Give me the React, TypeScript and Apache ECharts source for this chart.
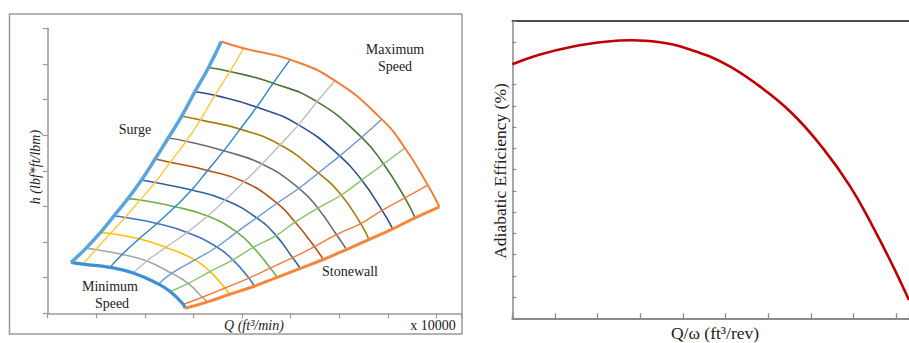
import React, { useEffect, useRef } from 'react';
import * as echarts from 'echarts';

// ---- Left panel: compressor map (Q in ft^3/min x 10000, h in lbf*ft/lbm) ----
// Each array: 12 points, one per speed line (minimum speed -> maximum speed)
const surgePts = [[0.48,1.43],[0.79,1.83],[1.08,2.26],[1.36,2.73],[1.65,3.22],[1.93,3.74],[2.21,4.33],[2.48,4.92],[2.76,5.54],[3.03,6.22],[3.31,6.90],[3.57,7.63]];
const flow1Pts = [[0.73,1.38],[0.99,1.79],[1.29,2.24],[1.59,2.69],[1.90,3.18],[2.21,3.67],[2.52,4.24],[2.85,4.83],[3.14,5.43],[3.44,6.12],[3.75,6.79],[4.03,7.44]];
const flow2Pts = [[1.28,1.29],[1.53,1.65],[1.88,2.09],[2.25,2.52],[2.62,2.99],[2.96,3.46],[3.29,4.01],[3.62,4.56],[3.96,5.17],[4.30,5.79],[4.64,6.46],[4.99,7.12]];
const flow3Pts = [[1.76,1.13],[2.04,1.47],[2.43,1.85],[2.87,2.27],[3.29,2.73],[3.65,3.18],[4.04,3.69],[4.41,4.19],[4.78,4.73],[5.16,5.29],[5.54,5.94],[5.91,6.53]];
const flow4Pts = [[2.28,0.82],[2.55,1.12],[3.03,1.50],[3.48,1.86],[3.89,2.28],[4.30,2.68],[4.72,3.09],[5.17,3.51],[5.57,3.94],[6.01,4.42],[6.46,4.94],[6.87,5.45]];
const flow5Pts = [[2.52,0.61],[2.89,0.84],[3.34,1.17],[3.81,1.50],[4.23,1.85],[4.70,2.18],[5.09,2.56],[5.56,2.95],[6.04,3.32],[6.46,3.74],[6.91,4.19],[7.35,4.64]];
const flow6Pts = [[2.79,0.25],[3.18,0.45],[3.65,0.71],[4.14,0.99],[4.58,1.27],[5.04,1.56],[5.49,1.87],[5.94,2.21],[6.44,2.52],[6.88,2.89],[7.35,3.24],[7.82,3.60]];
const stonewallPts = [[2.83,0.14],[3.29,0.32],[3.74,0.53],[4.25,0.76],[4.72,1.01],[5.20,1.26],[5.67,1.51],[6.15,1.79],[6.61,2.07],[7.10,2.37],[7.56,2.68],[8.06,2.99]];

const speedColors = ['#3f8fd5','#a5a5a5','#ffc000','#4472c4','#70ad47','#2f62a0','#b4521c','#6e6e6e','#a87d0c','#2d4f8c','#4c7434','#f07f3a'];
const flowColors = ['#ffc83a','#2b84cc','#bdbdbd','#6f95d6','#86c36a','#f07b3a'];

// ---- Right panel: adiabatic efficiency curve ----
const qOmega = [0, 0.61, 1.40, 2.18, 2.80, 3.42, 4.20, 5.00, 5.76, 6.55, 7.29, 7.92, 8.47, 8.93, 9.30];
const efficiency = [11.96, 12.40, 12.79, 13.02, 13.09, 13.01, 12.63, 11.97, 10.98, 9.67, 7.99, 6.21, 4.25, 2.43, 0.86];

const SERIF = '"Liberation Serif", "DejaVu Serif", serif';

function buildOption() {
  const flowCols = [flow1Pts, flow2Pts, flow3Pts, flow4Pts, flow5Pts, flow6Pts];
  const allCols = [surgePts, ...flowCols, stonewallPts];

  const series: any[] = [];
  speedColors.forEach((c, i) => {
    const isMin = i === 0;
    const isMax = i === speedColors.length - 1;
    series.push({
      type: 'line', xAxisIndex: 0, yAxisIndex: 0,
      data: allCols.map((col) => col[i]),
      smooth: 0.5, symbol: 'none', silent: true, clip: false,
      lineStyle: { color: c, width: isMin ? 3.2 : isMax ? 2 : 1.6 },
      z: isMin || isMax ? 4 : 2,
    });
  });
  flowCols.forEach((col, j) => {
    series.push({
      type: 'line', xAxisIndex: 0, yAxisIndex: 0,
      data: col, smooth: 0.5, symbol: 'none', silent: true, clip: false,
      lineStyle: { color: flowColors[j], width: 1.4 }, z: 2,
    });
  });
  series.push({
    type: 'line', xAxisIndex: 0, yAxisIndex: 0, data: surgePts, smooth: 0.5,
    symbol: 'none', silent: true, clip: false,
    lineStyle: { color: '#5aa5dc', width: 3.5 }, z: 5,
  });
  series.push({
    type: 'line', xAxisIndex: 0, yAxisIndex: 0, data: stonewallPts, smooth: 0.5,
    symbol: 'none', silent: true, clip: false,
    lineStyle: { color: '#f5873d', width: 3 }, z: 5,
  });
  series.push({
    type: 'line', xAxisIndex: 1, yAxisIndex: 1,
    data: qOmega.map((q, k) => [q, efficiency[k]]),
    smooth: 0.45, symbol: 'none', silent: true,
    lineStyle: { color: '#c00000', width: 2.6 }, z: 3,
  });

  const gray = '#9a9a9a';
  const txt = (text: string, x: number, y: number, size: number, extra: any = {}) => ({
    type: 'text', x, y, rotation: extra.rotation || 0, z: 10,
    style: {
      text, fill: '#222',
      font: `${extra.italic ? 'italic ' : ''}${size}px ${SERIF}`,
      textAlign: 'center', textVerticalAlign: 'middle', align: 'center', verticalAlign: 'middle',
    },
  });

  return {
    animation: false,
    backgroundColor: '#ffffff',
    grid: [
      { left: 47.7, top: 28.3, width: 413.1, height: 285, show: false },
      { left: 512.3, top: 21, width: 396.7, height: 297.3, show: false },
    ],
    xAxis: [
      {
        type: 'value', gridIndex: 0, min: 0, max: 8.5, interval: 1,
        axisLine: { show: true, lineStyle: { color: gray, width: 1.5 } },
        axisTick: { show: true, inside: false, length: 5, lineStyle: { color: gray, width: 1.2 } },
        axisLabel: { show: false }, splitLine: { show: false },
      },
      {
        type: 'value', gridIndex: 1, min: 0, max: 9.3, interval: 1,
        axisLine: { show: true, onZero: false, lineStyle: { color: '#8a8a8a', width: 2 } },
        axisTick: { show: true, inside: true, length: 5, lineStyle: { color: '#8a8a8a', width: 1.3 } },
        axisLabel: { show: false }, splitLine: { show: false },
      },
      {
        type: 'value', gridIndex: 1, position: 'top', min: 0, max: 9.3,
        axisLine: { show: true, onZero: false, lineStyle: { color: '#111', width: 1.5 } },
        axisTick: { show: false }, axisLabel: { show: false }, splitLine: { show: false },
      },
    ],
    yAxis: [
      {
        type: 'value', gridIndex: 0, min: 0, max: 8, interval: 1,
        axisLine: { show: true, lineStyle: { color: gray, width: 1.5 } },
        axisTick: { show: true, inside: false, length: 5, lineStyle: { color: gray, width: 1.2 } },
        axisLabel: { show: false }, splitLine: { show: false },
      },
      {
        type: 'value', gridIndex: 1, min: 0, max: 14, interval: 1,
        axisLine: { show: true, onZero: false, lineStyle: { color: '#8a8a8a', width: 1.5 } },
        axisTick: { show: true, inside: true, length: 4, lineStyle: { color: '#8a8a8a', width: 1.2 } },
        axisLabel: { show: false }, splitLine: { show: false },
      },
    ],
    graphic: [
      {
        type: 'rect', z: 0,
        shape: { x: 9.5, y: 14, width: 452.5, height: 320 },
        style: { fill: 'none', stroke: '#9a9a9a', lineWidth: 1.5 },
      },
      txt('Maximum', 395, 49, 14),
      txt('Speed', 395, 66, 14),
      txt('Surge', 135, 129, 14),
      txt('Minimum', 110, 286, 14),
      txt('Speed', 112, 303, 14),
      txt('Stonewall', 350, 271, 14),
      txt('Q (ft\u00B3/min)', 254, 325, 14, { italic: true }),
      txt('x 10000', 433, 325, 14),
      txt('h (lbf*ft/lbm)', 35, 167, 14, { italic: true, rotation: Math.PI / 2 }),
      txt('Adiabatic Efficiency (%)', 500, 171, 17.5, { rotation: Math.PI / 2 }),
      txt('Q/\u03C9 (ft\u00B3/rev)', 715, 333, 17.5),
    ],
    series,
  };
}

export default function App() {
  const ref = useRef<HTMLDivElement>(null);
  useEffect(() => {
    if (!ref.current) return;
    const chart = echarts.init(ref.current, null, { renderer: 'svg' });
    chart.setOption(buildOption() as any);
    return () => chart.dispose();
  }, []);
  return (
    <div
      ref={ref}
      style={{ position: 'fixed', left: 0, top: 0, width: 909, height: 343, background: '#fff' }}
    />
  );
}
